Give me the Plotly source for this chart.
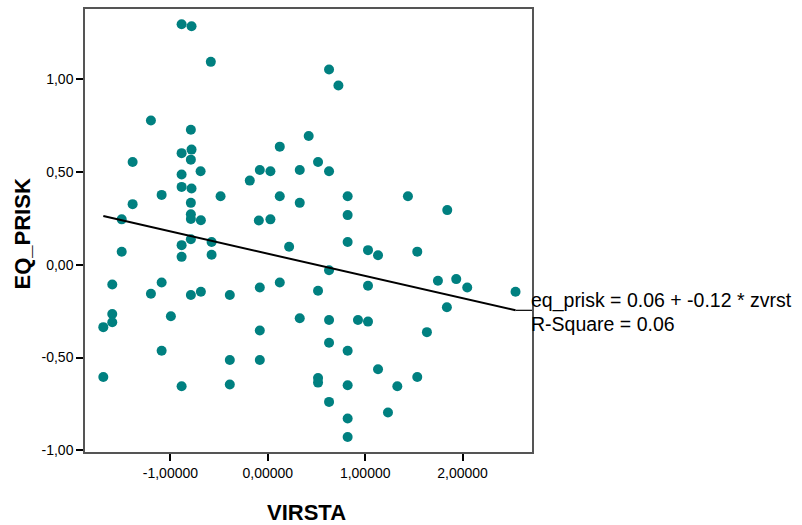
import plotly.graph_objects as go

# zvrst (VIRSTA) values
virsta = [
    -0.885, -0.783, -0.585, -1.200, -0.790, -0.885, -0.783, -0.790, -1.388, -0.690,
    -0.885, -1.090, -0.885, -0.783, -0.485, -1.388, -0.790, -0.790, -0.790, -0.687,
    -1.500, 0.629, 0.725, 0.420, 0.123, 0.516, -0.082, 0.027, 0.328, 0.629,
    -0.185, 0.123, 0.328, 0.820, 0.820, -0.092, 0.027, 1.439, 1.843, -0.790,
    -0.885, -0.577, -0.885, -0.577, -1.500, -1.597, -1.090, -1.200, -0.790, -0.687,
    -0.390, -1.597, -1.597, -1.689, -0.995, -1.090, -0.390, -1.689, -0.885, -0.390,
    0.219, 0.820, 1.029, 1.132, 0.629, -0.082, 0.123, 0.516, 1.029, 0.328,
    0.629, 0.926, 1.029, -0.082, 0.629, 0.820, -0.082, 1.132, 0.516, 0.516,
    0.820, 0.629, 0.820, 0.820, 1.535, 1.747, 1.935, 2.048, 2.544, 1.839,
    1.634, 1.535, 1.330, 1.234,
]
# EQ_PRISK values
eq_prisk = [
    1.297, 1.286, 1.094, 0.778, 0.728, 0.602, 0.621, 0.567, 0.554, 0.504,
    0.487, 0.377, 0.420, 0.411, 0.370, 0.327, 0.334, 0.272, 0.247, 0.240,
    0.245, 1.053, 0.967, 0.694, 0.637, 0.554, 0.511, 0.504, 0.511, 0.504,
    0.454, 0.370, 0.334, 0.370, 0.268, 0.239, 0.245, 0.370, 0.295, 0.138,
    0.106, 0.123, 0.043, 0.054, 0.070, -0.106, -0.095, -0.156, -0.163, -0.145,
    -0.163, -0.265, -0.310, -0.336, -0.277, -0.463, -0.513, -0.605, -0.655, -0.645,
    0.097, 0.123, 0.079, 0.052, -0.029, -0.122, -0.095, -0.140, -0.113, -0.288,
    -0.297, -0.297, -0.306, -0.354, -0.420, -0.463, -0.513, -0.563, -0.610, -0.635,
    -0.649, -0.739, -0.828, -0.928, 0.071, -0.086, -0.077, -0.122, -0.145, -0.229,
    -0.363, -0.605, -0.655, -0.796,
]

intercept = 0.06
slope = -0.12
r_square = 0.06

x_ticks = [-1, 0, 1, 2]
x_ticktext = ["-1,00000", "0,00000", "1,00000", "2,00000"]
y_ticks = [-1, -0.5, 0, 0.5, 1]
y_ticktext = ["-1,00", "-0,50", "0,00", "0,50", "1,00"]

x_range = [-1.877, 2.713]
y_range = [-1.009, 1.379]

teal = "#008080"
font_fam = "Arial, Liberation Sans, sans-serif"

fit_x = [min(virsta), max(virsta)]
fit_y = [intercept + slope * v for v in fit_x]

fig = go.Figure()
fig.add_trace(go.Scatter(
    x=virsta, y=eq_prisk, mode="markers",
    marker=dict(color=teal, size=10, line=dict(width=0)),
    showlegend=False, hoverinfo="x+y",
))
fig.add_trace(go.Scatter(
    x=fit_x, y=fit_y, mode="lines",
    line=dict(color="black", width=2),
    showlegend=False, hoverinfo="skip",
))

# short leader from the fit line end to the plot edge
x_end_dom = (fit_x[1] - x_range[0]) / (x_range[1] - x_range[0])
fig.add_shape(type="line", xref="x domain", yref="y",
              x0=x_end_dom, x1=1.0, y0=fit_y[1], y1=fit_y[1],
              line=dict(color="black", width=1.2))

axis_common = dict(
    showgrid=False, zeroline=False, showline=True, mirror=True,
    linecolor="#555555", linewidth=1.5,
    ticks="outside", ticklen=7, tickwidth=2, tickcolor="black",
    tickfont=dict(family=font_fam, size=14, color="black"),
)

fig.update_xaxes(range=x_range, tickvals=x_ticks, ticktext=x_ticktext, **axis_common)
fig.update_yaxes(range=y_range, tickvals=y_ticks, ticktext=y_ticktext, **axis_common)

fig.add_annotation(text="<b>VIRSTA</b>", xref="paper", yref="paper",
                   x=0.496, y=-0.137, xanchor="center", yanchor="middle",
                   showarrow=False, font=dict(family=font_fam, size=22, color="black"))
fig.add_annotation(text="<b>EQ_PRISK</b>", xref="paper", yref="paper",
                   x=-0.14, y=0.492, xanchor="center", yanchor="middle",
                   textangle=-90,
                   showarrow=False, font=dict(family=font_fam, size=22, color="black"))
fig.add_annotation(text=f"eq_prisk = {intercept:.2f} + {slope:.2f} * zvrst",
                   xref="paper", yref="paper", x=0.994, y=0.3416,
                   xanchor="left", yanchor="middle", showarrow=False,
                   font=dict(family=font_fam, size=19.5, color="black"))
fig.add_annotation(text=f"R-Square = {r_square:.2f}",
                   xref="paper", yref="paper", x=0.994, y=0.29,
                   xanchor="left", yanchor="middle", showarrow=False,
                   font=dict(family=font_fam, size=19.5, color="black"))

fig.update_layout(
    width=802, height=525,
    margin=dict(l=85, r=269.5, t=7, b=73),
    paper_bgcolor="white", plot_bgcolor="white",
    font=dict(family=font_fam, color="black"),
)

fig.write_html("out.html", config={"displayModeBar": False},
               post_script="document.body.style.margin='0';")
